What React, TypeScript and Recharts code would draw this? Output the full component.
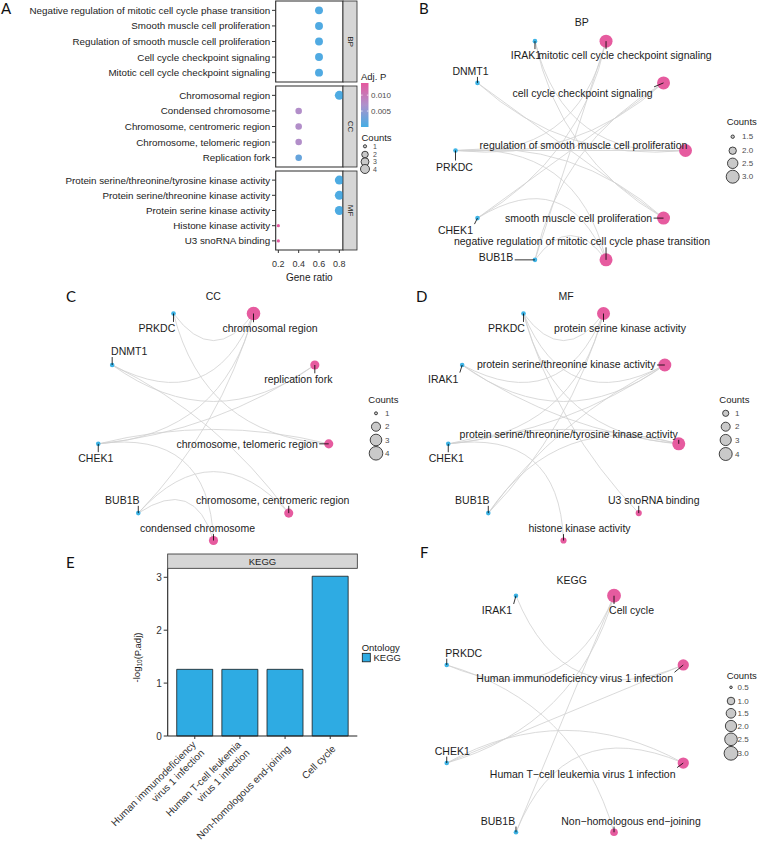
import React from 'react';
import { ScatterChart, Scatter, XAxis, YAxis, ReferenceArea, ReferenceLine, BarChart, Bar } from 'recharts';

const FONT = '"Liberation Sans", Arial, Helvetica, sans-serif';
const GENE_COLOR = '#3db4e6';
const TERM_COLOR = '#e65b9f';
const EDGE_COLOR = '#d0d0d0';
const BAR_COLOR = '#2eabe3';
const TXT = '#1c1c1c';

// ---------------- Panel A: GO dot plot ----------------
const bpTerms = [
  'Negative regulation of mitotic cell cycle phase transition',
  'Smooth muscle cell proliferation',
  'Regulation of smooth muscle cell proliferation',
  'Cell cycle checkpoint signaling',
  'Mitotic cell cycle checkpoint signaling',
];
const bpGeneRatio = [0.6, 0.6, 0.6, 0.6, 0.6];
const bpCounts = [3, 3, 3, 3, 3];
const bpAdjP = [0.0007, 0.0007, 0.0007, 0.0007, 0.0007];

const ccTerms = [
  'Chromosomal region',
  'Condensed chromosome',
  'Chromosome, centromeric region',
  'Chromosome, telomeric region',
  'Replication fork',
];
const ccGeneRatio = [0.8, 0.4, 0.4, 0.4, 0.4];
const ccCounts = [4, 2, 2, 2, 2];
const ccAdjP = [0.0006, 0.0074, 0.0074, 0.0074, 0.0022];

const mfTerms = [
  'Protein serine/threonine/tyrosine kinase activity',
  'Protein serine/threonine kinase activity',
  'Protein serine kinase activity',
  'Histone kinase activity',
  'U3 snoRNA binding',
];
const mfGeneRatio = [0.8, 0.8, 0.8, 0.2, 0.2];
const mfCounts = [4, 4, 4, 1, 1];
const mfAdjP = [0.0005, 0.0005, 0.0005, 0.0136, 0.0136];

const geneRatioTicks = [0.2, 0.4, 0.6, 0.8];
const adjPTicks = [0.01, 0.005];
const dotCountTicks = [1, 2, 3, 4];

// ---------------- Networks ----------------
const bpGenes = ['IRAK1', 'DNMT1', 'PRKDC', 'CHEK1', 'BUB1B'];
const bpNodeNames = [
  'regulation of smooth muscle cell proliferation',
  'cell cycle checkpoint signaling',
  'mitotic cell cycle checkpoint signaling',
  'IRAK1',
  'DNMT1',
  'PRKDC',
  'CHEK1',
  'BUB1B',
  'negative regulation of mitotic cell cycle phase transition',
  'smooth muscle cell proliferation',
];
const bpNodeX = [1.0, 0.809, 0.309, -0.309, -0.809, -1.0, -0.809, -0.309, 0.309, 0.809];
const bpNodeY = [0.0, 0.588, 0.951, 0.951, 0.588, 0.0, -0.588, -0.951, -0.951, -0.588];
const bpEdges: [string, string][] = [
  ['IRAK1', 'regulation of smooth muscle cell proliferation'],
  ['DNMT1', 'regulation of smooth muscle cell proliferation'],
  ['PRKDC', 'regulation of smooth muscle cell proliferation'],
  ['IRAK1', 'smooth muscle cell proliferation'],
  ['DNMT1', 'smooth muscle cell proliferation'],
  ['PRKDC', 'smooth muscle cell proliferation'],
  ['CHEK1', 'mitotic cell cycle checkpoint signaling'],
  ['BUB1B', 'mitotic cell cycle checkpoint signaling'],
  ['PRKDC', 'mitotic cell cycle checkpoint signaling'],
  ['CHEK1', 'cell cycle checkpoint signaling'],
  ['BUB1B', 'cell cycle checkpoint signaling'],
  ['PRKDC', 'cell cycle checkpoint signaling'],
  ['CHEK1', 'negative regulation of mitotic cell cycle phase transition'],
  ['BUB1B', 'negative regulation of mitotic cell cycle phase transition'],
  ['PRKDC', 'negative regulation of mitotic cell cycle phase transition'],
];
const bpSizeTicks = [1.5, 2.0, 2.5, 3.0];

const ccGenes = ['PRKDC', 'DNMT1', 'CHEK1', 'BUB1B'];
const ccNodeNames = [
  'condensed chromosome',
  'chromosome, centromeric region',
  'chromosome, telomeric region',
  'replication fork',
  'chromosomal region',
  'PRKDC',
  'DNMT1',
  'CHEK1',
  'BUB1B',
];
const ccNodeX = [0.0, 0.643, 0.985, 0.866, 0.342, -0.342, -0.866, -0.985, -0.643];
const ccNodeY = [-1.0, -0.766, -0.174, 0.5, 0.94, 0.94, 0.5, -0.174, -0.766];
const ccEdges: [string, string][] = [
  ['PRKDC', 'chromosomal region'],
  ['DNMT1', 'chromosomal region'],
  ['CHEK1', 'chromosomal region'],
  ['BUB1B', 'chromosomal region'],
  ['CHEK1', 'replication fork'],
  ['DNMT1', 'replication fork'],
  ['PRKDC', 'chromosome, telomeric region'],
  ['CHEK1', 'chromosome, telomeric region'],
  ['DNMT1', 'chromosome, centromeric region'],
  ['BUB1B', 'chromosome, centromeric region'],
  ['CHEK1', 'condensed chromosome'],
  ['BUB1B', 'condensed chromosome'],
];
const ccSizeTicks = [1, 2, 3, 4];

const mfGenes = ['PRKDC', 'IRAK1', 'CHEK1', 'BUB1B'];
const mfNodeNames = [
  'histone kinase activity',
  'U3 snoRNA binding',
  'protein serine/threonine/tyrosine kinase activity',
  'protein serine/threonine kinase activity',
  'protein serine kinase activity',
  'PRKDC',
  'IRAK1',
  'CHEK1',
  'BUB1B',
];
const mfNodeX = [0.0, 0.643, 0.985, 0.866, 0.342, -0.342, -0.866, -0.985, -0.643];
const mfNodeY = [-1.0, -0.766, -0.174, 0.5, 0.94, 0.94, 0.5, -0.174, -0.766];
const mfEdges: [string, string][] = [
  ['PRKDC', 'protein serine kinase activity'],
  ['IRAK1', 'protein serine kinase activity'],
  ['CHEK1', 'protein serine kinase activity'],
  ['BUB1B', 'protein serine kinase activity'],
  ['PRKDC', 'protein serine/threonine kinase activity'],
  ['IRAK1', 'protein serine/threonine kinase activity'],
  ['CHEK1', 'protein serine/threonine kinase activity'],
  ['BUB1B', 'protein serine/threonine kinase activity'],
  ['PRKDC', 'protein serine/threonine/tyrosine kinase activity'],
  ['IRAK1', 'protein serine/threonine/tyrosine kinase activity'],
  ['CHEK1', 'protein serine/threonine/tyrosine kinase activity'],
  ['BUB1B', 'protein serine/threonine/tyrosine kinase activity'],
  ['CHEK1', 'histone kinase activity'],
  ['PRKDC', 'U3 snoRNA binding'],
];
const mfSizeTicks = [1, 2, 3, 4];

const kgGenes = ['IRAK1', 'PRKDC', 'CHEK1', 'BUB1B'];
const kgNodeNames = [
  'Human immunodeficiency virus 1 infection',
  'Cell cycle',
  'IRAK1',
  'PRKDC',
  'CHEK1',
  'BUB1B',
  'Non\u2212homologous end\u2212joining',
  'Human T\u2212cell leukemia virus 1 infection',
];
const kgNodeX = [0.924, 0.383, -0.383, -0.924, -0.924, -0.383, 0.383, 0.924];
const kgNodeY = [0.383, 0.924, 0.924, 0.383, -0.383, -0.924, -0.924, -0.383];
const kgEdges: [string, string][] = [
  ['PRKDC', 'Cell cycle'],
  ['CHEK1', 'Cell cycle'],
  ['BUB1B', 'Cell cycle'],
  ['IRAK1', 'Human immunodeficiency virus 1 infection'],
  ['CHEK1', 'Human immunodeficiency virus 1 infection'],
  ['CHEK1', 'Human T\u2212cell leukemia virus 1 infection'],
  ['BUB1B', 'Human T\u2212cell leukemia virus 1 infection'],
  ['PRKDC', 'Non\u2212homologous end\u2212joining'],
];
const kgSizeTicks = [0.5, 1.0, 1.5, 2.0, 2.5, 3.0];

// ---------------- Panel E: KEGG bars ----------------
const keggTerms = [
  'Human immunodeficiency\nvirus 1 infection',
  'Human T-cell leukemia\nvirus 1 infection',
  'Non-homologous end-joining',
  'Cell cycle',
];
const keggNegLog10P = [1.26, 1.26, 1.26, 3.02];
const keggYTicks = [0, 1, 2, 3];

// ---------------- styles (label offsets, sizes) ----------------
const bpLabelOffset: Record<string, [number, number]> = {
  IRAK1: [-9, 14], DNMT1: [-7, -12], PRKDC: [-1, 16], CHEK1: [-22, 12], BUB1B: [-39, -3],
  'mitotic cell cycle checkpoint signaling': [19, 14],
  'cell cycle checkpoint signaling': [-81, 10],
  'regulation of smooth muscle cell proliferation': [-102, -6],
  'smooth muscle cell proliferation': [-85, 0],
  'negative regulation of mitotic cell cycle phase transition': [-24, -18.5],
};
const ccLabelOffset: Record<string, [number, number]> = {
  PRKDC: [-16.6, 14.4], DNMT1: [17, -14], CHEK1: [-2.5, 14.3], BUB1B: [-16, -13.3],
  'condensed chromosome': [-16, -12.4],
  'chromosome, centromeric region': [-16, -13.3],
  'chromosome, telomeric region': [-81.6, 0.3],
  'replication fork': [-16.5, 14.3],
  'chromosomal region': [16.5, 14.7],
};
const mfLabelOffset: Record<string, [number, number]> = {
  PRKDC: [-17, 14.4], IRAK1: [-19, 13.6], CHEK1: [-2, 14.4], BUB1B: [-16, -13.3],
  'histone kinase activity': [16, -12.4],
  'U3 snoRNA binding': [15, -13.3],
  'protein serine/threonine/tyrosine kinase activity': [-110, -10],
  'protein serine/threonine kinase activity': [-98.6, -0.7],
  'protein serine kinase activity': [16.5, 14.4],
};
const kgLabelOffset: Record<string, [number, number]> = {
  IRAK1: [-19, 14.3], PRKDC: [17, -12.3], CHEK1: [5.5, -12.4], BUB1B: [-18, -11.7],
  'Non\u2212homologous end\u2212joining': [17, -11.7],
  'Human T\u2212cell leukemia virus 1 infection': [-100.6, 10.6],
  'Human immunodeficiency virus 1 infection': [-108.6, 13.3],
  'Cell cycle': [17.5, 14.3],
};

type SizeSpec = [number, number, number, number]; // vmin, vmax, rmin, rmax
const aSize: SizeSpec = [1, 4, 1.6, 4.5];
const bpSize: SizeSpec = [1, 3, -3.1, 6.5];
const ccSize: SizeSpec = [1, 4, 1.5, 6.8];
const mfSize: SizeSpec = [0, 4, -0.3, 6.5];
const kgSize: SizeSpec = [0.5, 3, 1.3, 6.9];

function radiusOf(v: number, s: SizeSpec) {
  const t = Math.max(0, Math.min(1, (v - s[0]) / (s[1] - s[0])));
  return Math.max(0.8, s[2] + (s[3] - s[2]) * Math.sqrt(t));
}

const P_SCALE_MAX = 0.0138;
const P_STOPS = [
  [69, 173, 228],
  [174, 146, 204],
  [229, 88, 158],
];
function pColor(p: number) {
  const t = Math.max(0, Math.min(1, p / P_SCALE_MAX));
  const seg = t < 0.5 ? 0 : 1;
  const u = t < 0.5 ? t * 2 : (t - 0.5) * 2;
  const a = P_STOPS[seg], b = P_STOPS[seg + 1];
  const c = a.map((v, i) => Math.round(v + (b[i] - v) * u));
  return `rgb(${c[0]},${c[1]},${c[2]})`;
}

let measureCtx: CanvasRenderingContext2D | null = null;
function textWidth(s: string, size: number) {
  if (!measureCtx) measureCtx = document.createElement('canvas').getContext('2d');
  if (!measureCtx) return s.length * size * 0.5;
  measureCtx.font = `${size}px "Liberation Sans"`;
  return measureCtx.measureText(s).width;
}

// ---------------- Panel A facet ----------------
function DotFacet(props: {
  terms: string[]; ratio: number[]; counts: number[]; adjP: number[];
  top: number; height: number; showX: boolean;
}) {
  const { terms, ratio, counts, adjP, top, height, showX } = props;
  const rows = terms.map((t, i) => ({ term: t, pos: i + 1, ratio: ratio[i], count: counts[i], p: adjP[i] }));
  const axisH = showX ? 35 : 0;
  const dot = (p: any) =>
    p.cx == null ? <g /> : (
      <circle cx={p.cx} cy={p.cy} r={radiusOf(p.payload.count, aSize)} fill={pColor(p.payload.p)} />
    );
  const termTick = (p: any) => (
    <text x={p.x} y={p.y} textAnchor="end" dominantBaseline="central" fontSize={9.8} fill={TXT} fontFamily={FONT}>
      {terms[Math.round(p.payload.value) - 1]}
    </text>
  );
  return (
    <div style={{ position: 'absolute', left: 0, top, width: 350, height: height + axisH }}>
      <ScatterChart width={350} height={height + axisH} margin={{ top: 0, right: 7, bottom: 0, left: 0 }}>
        <XAxis
          type="number" dataKey="ratio" domain={[0.174, 0.836]} ticks={geneRatioTicks} interval={0}
          hide={!showX} height={axisH} tickSize={3} tickMargin={7.5} axisLine={false}
          tickLine={{ stroke: '#333' }}
          tick={{ fontSize: 9, fill: '#333', fontFamily: FONT }}
          tickFormatter={(v: number) => v.toFixed(1)}
          label={{ value: 'Gene ratio', position: 'insideBottom', offset: 4, fontSize: 10, fill: TXT, fontFamily: FONT }}
        />
        <YAxis
          type="number" dataKey="pos" domain={[0.4, 5.6]} reversed ticks={[1, 2, 3, 4, 5]} interval={0}
          width={275.7} tickSize={3.7} tickMargin={1.8}
          axisLine={false} tickLine={{ stroke: '#333' }}
          tick={termTick}
        />
        <ReferenceArea x1={0.174} x2={0.836} y1={0.4} y2={5.6} fill="none" fillOpacity={0} stroke="#2a2a2a" strokeWidth={1.1} ifOverflow="visible" />
        <Scatter data={rows} shape={dot} isAnimationActive={false} />
      </ScatterChart>
    </div>
  );
}

// ---------------- Network ----------------
type NetNode = { name: string; x: number; y: number; gene: boolean; count: number };
const ARC_BEND = 0.72;
const LABEL_FS = 10.5;

function edgeShape(a: NetNode, b: NetNode) {
  return (p: any) => {
    const { x1, y1, x2, y2 } = p;
    if ([x1, y1, x2, y2].some((v) => v == null || isNaN(v))) return <g />;
    const dxd = b.x - a.x, dyd = b.y - a.y;
    const k = Math.abs(dxd) > Math.abs(dyd) ? (x2 - x1) / dxd : -(y2 - y1) / dyd;
    const chord = Math.hypot(dxd, dyd);
    const s = ARC_BEND * chord;
    const mx = (a.x + b.x) / 2, my = (a.y + b.y) / 2;
    const qx = mx * (1 - s), qy = my * (1 - s);
    const cpx = x1 + k * (qx - a.x), cpy = y1 - k * (qy - a.y);
    return (
      <path d={`M${x1},${y1}Q${cpx},${cpy} ${x2},${y2}`} fill="none" stroke={EDGE_COLOR} strokeWidth={0.8} />
    );
  };
}

function Network(props: {
  names: string[]; xs: number[]; ys: number[]; genes: string[]; edges: [string, string][];
  offsets: Record<string, [number, number]>; size: SizeSpec;
  cx: number; cy: number; half: number; dom: number;
}) {
  const { names, xs, ys, genes, edges, offsets, size, cx, cy, half, dom } = props;
  const nodes: NetNode[] = names.map((n, i) => ({
    name: n, x: xs[i], y: ys[i], gene: genes.includes(n),
    count: edges.filter((e) => e[1] === n).length,
  }));
  const byName: Record<string, NetNode> = {};
  nodes.forEach((n) => (byName[n.name] = n));
  const dot = (p: any) => {
    if (p.cx == null) return <g />;
    const d = p.payload as NetNode;
    return d.gene ? (
      <circle cx={p.cx} cy={p.cy} r={2.3} fill={GENE_COLOR} />
    ) : (
      <circle cx={p.cx} cy={p.cy} r={radiusOf(d.count, size)} fill={TERM_COLOR} />
    );
  };
  const lab = (p: any) => {
    if (p.cx == null) return <g />;
    const d = p.payload as NetNode;
    const off = offsets[d.name] || [0, 0];
    const lx = p.cx + off[0], ly = p.cy + off[1];
    const w = textWidth(d.name, LABEL_FS);
    const bx0 = lx - w / 2 - 1.5, bx1 = lx + w / 2 + 1.5, by0 = ly - 6, by1 = ly + 6;
    const px = Math.max(bx0, Math.min(bx1, p.cx));
    const py = Math.max(by0, Math.min(by1, p.cy));
    const seg = Math.hypot(px - p.cx, py - p.cy) > 2.5;
    return (
      <g>
        {seg && <line x1={p.cx} y1={p.cy} x2={px} y2={py} stroke="#000" strokeWidth={0.8} />}
        <text x={lx} y={ly} textAnchor="middle" dominantBaseline="central" fontSize={LABEL_FS} fontFamily={FONT} fill={TXT}>
          {d.name}
        </text>
      </g>
    );
  };
  return (
    <div style={{ position: 'absolute', left: cx - half, top: cy - half, width: 2 * half, height: 2 * half }}>
      <ScatterChart width={2 * half} height={2 * half} margin={{ top: 0, right: 0, bottom: 0, left: 0 }}>
        <XAxis type="number" dataKey="x" domain={[-dom, dom]} hide />
        <YAxis type="number" dataKey="y" domain={[-dom, dom]} hide />
        {edges.map(([g, t], i) => {
          const a = byName[g], b = byName[t];
          return (
            <ReferenceLine
              key={i}
              segment={[{ x: a.x, y: a.y }, { x: b.x, y: b.y }]}
              ifOverflow="visible"
              stroke={EDGE_COLOR}
              shape={edgeShape(a, b)}
            />
          );
        })}
        <Scatter data={nodes} shape={dot} isAnimationActive={false} />
        <Scatter data={nodes} shape={lab} isAnimationActive={false} />
      </ScatterChart>
    </div>
  );
}

// ---------------- Panel E tick ----------------
const KeggTick = (p: any) => {
  const { x, y, payload } = p;
  const lines = String(payload.value).split('\n');
  const LH = 11.8;
  return (
    <g transform={`translate(${x + 3.5},${y + 6}) rotate(-45)`}>
      <text textAnchor="end" fontSize={10} fill="#333" fontFamily={FONT}>
        {lines.map((l, i) => (
          <tspan key={i} x={0} dy={i === 0 ? -((lines.length - 1) / 2) * LH + 3.5 : LH}>
            {l}
          </tspan>
        ))}
      </text>
    </g>
  );
};

// ---------------- Legends ----------------
function SizeLegend(props: {
  tx: number; ty: number; cx: number; ys: number[]; values: number[]; size: SizeSpec; lx: number;
  fmt?: (v: number) => string; fs?: number;
}) {
  const { tx, ty, cx, ys, values, size, lx, fmt, fs } = props;
  return (
    <g>
      <text x={tx} y={ty} dominantBaseline="central" fontSize={9.5} fill={TXT} fontFamily={FONT}>Counts</text>
      {values.map((v, i) => (
        <circle key={'c' + i} cx={cx} cy={ys[i]} r={radiusOf(v, size)} fill="#c9c9c9" stroke="#1a1a1a" strokeWidth={0.8} />
      ))}
      {values.map((v, i) => (
        <text key={'t' + i} x={lx} y={ys[i]} dominantBaseline="central" fontSize={fs || 8} fill="#4d4d4d" fontFamily={FONT}>
          {fmt ? fmt(v) : String(v)}
        </text>
      ))}
    </g>
  );
}

function Overlay() {
  const letter = (s: string, x: number, y: number) => (
    <text x={x} y={y} fontSize={15} fontFamily='Lato, "Liberation Sans", sans-serif' fill="#111">{s}</text>
  );
  const title = (s: string, x: number, y: number) => (
    <text x={x} y={y} textAnchor="middle" dominantBaseline="central" fontSize={10.5} fontFamily={FONT} fill={TXT}>{s}</text>
  );
  const strips: [string, number, number][] = [['BP', 1, 82], ['CC', 86, 167], ['MF', 171, 250]];
  const gTop = 83, gH = 44;
  return (
    <svg width={761} height={844} style={{ position: 'absolute', left: 0, top: 0, pointerEvents: 'none' }}>
      <defs>
        <linearGradient id="adjp" x1="0" y1="1" x2="0" y2="0">
          {P_STOPS.map((c, i) => (
            <stop key={i} offset={`${i * 50}%`} stopColor={`rgb(${c[0]},${c[1]},${c[2]})`} />
          ))}
        </linearGradient>
      </defs>
      {letter('A', 1, 13.5)}
      {letter('B', 419, 13.5)}
      {letter('C', 66, 301.5)}
      {letter('D', 416, 301.5)}
      {letter('E', 66, 568)}
      {letter('F', 420, 558)}
      {title('BP', 581.7, 21.7)}
      {title('CC', 213.3, 295.7)}
      {title('MF', 566, 295.7)}
      {title('KEGG', 571.7, 580)}

      {strips.map(([s, t, b]) => (
        <g key={s}>
          <rect x={343} y={t} width={14} height={b - t} fill="#d6d6d6" stroke="#2a2a2a" strokeWidth={0.8} />
          <text x={350} y={(t + b) / 2} textAnchor="middle" dominantBaseline="central" fontSize={8} fill={TXT}
            fontFamily={FONT} transform={`rotate(90 350 ${(t + b) / 2})`}>{s}</text>
        </g>
      ))}

      <text x={361} y={79.5} fontSize={9.5} fill={TXT} fontFamily={FONT}>Adj. P</text>
      <rect x={361} y={gTop} width={7.5} height={gH} fill="url(#adjp)" />
      {adjPTicks.map((v) => {
        const yy = gTop + gH - (v / P_SCALE_MAX) * gH;
        return (
          <g key={v}>
            <line x1={361} x2={362.6} y1={yy} y2={yy} stroke="#fff" strokeWidth={0.7} />
            <line x1={366.9} x2={368.5} y1={yy} y2={yy} stroke="#fff" strokeWidth={0.7} />
            <text x={371} y={yy} dominantBaseline="central" fontSize={8} fill="#4d4d4d" fontFamily={FONT}>{v.toFixed(3)}</text>
          </g>
        );
      })}
      <SizeLegend tx={361.5} ty={137} cx={365} ys={[146.3, 154.5, 161.8, 169]} values={dotCountTicks} size={aSize} lx={373} fs={7} />

      <SizeLegend tx={726.7} ty={121.7} cx={732.7} ys={[136.7, 150.7, 163.3, 176.7]} values={bpSizeTicks} size={bpSize} lx={742} fmt={(v) => v.toFixed(1)} />
      <SizeLegend tx={368.3} ty={399.3} cx={376} ys={[413.3, 426.7, 440, 453.3]} values={ccSizeTicks} size={ccSize} lx={385} />
      <SizeLegend tx={719.3} ty={399} cx={725.7} ys={[413.3, 426.7, 440, 454]} values={mfSizeTicks} size={mfSize} lx={735} />
      <SizeLegend tx={726.7} ty={675} cx={731} ys={[687.3, 701, 713.3, 726, 739.3, 753.3]} values={kgSizeTicks} size={kgSize} lx={737.5} fmt={(v) => v.toFixed(1)} />

      <rect x={167.7} y={554} width={189.6} height={14.3} fill="#d6d6d6" stroke="#2a2a2a" strokeWidth={0.8} />
      <text x={262.5} y={561.2} textAnchor="middle" dominantBaseline="central" fontSize={9.5} fill={TXT} fontFamily={FONT}>KEGG</text>
      <text transform="translate(136.7,657.5) rotate(-90)" textAnchor="middle" dominantBaseline="central" fontSize={9.5} fill={TXT} fontFamily={FONT}>
        -log<tspan fontSize={6.5} dy={2}>10</tspan><tspan dy={-2}>(P.adj)</tspan>
      </text>
      <text x={361.7} y={647} dominantBaseline="central" fontSize={9.5} fill={TXT} fontFamily={FONT}>Ontology</text>
      <rect x={362.3} y={653.3} width={8} height={8.5} fill={BAR_COLOR} stroke="#1a1a1a" strokeWidth={0.8} />
      <text x={373.5} y={657.6} dominantBaseline="central" fontSize={9.5} fill={TXT} fontFamily={FONT}>KEGG</text>
    </svg>
  );
}

export default function App() {
  const keggData = keggTerms.map((t, i) => ({ term: t, value: keggNegLog10P[i] }));
  return (
    <div style={{ position: 'absolute', left: 0, top: 0, width: 761, height: 844, overflow: 'hidden', background: '#fff', fontFamily: FONT }}>
      <style>{'.recharts-surface{overflow:visible}'}</style>

      <DotFacet terms={bpTerms} ratio={bpGeneRatio} counts={bpCounts} adjP={bpAdjP} top={1} height={81} showX={false} />
      <DotFacet terms={ccTerms} ratio={ccGeneRatio} counts={ccCounts} adjP={ccAdjP} top={86} height={81} showX={false} />
      <DotFacet terms={mfTerms} ratio={mfGeneRatio} counts={mfCounts} adjP={mfAdjP} top={171} height={79} showX={true} />

      <Network names={bpNodeNames} xs={bpNodeX} ys={bpNodeY} genes={bpGenes} edges={bpEdges} offsets={bpLabelOffset}
        size={bpSize} cx={570} cy={150} half={172.5} dom={1.5} />
      <Network names={ccNodeNames} xs={ccNodeX} ys={ccNodeY} genes={ccGenes} edges={ccEdges} offsets={ccLabelOffset}
        size={ccSize} cx={213} cy={423.7} half={172.5} dom={172.5 / 117} />
      <Network names={mfNodeNames} xs={mfNodeX} ys={mfNodeY} genes={mfGenes} edges={mfEdges} offsets={mfLabelOffset}
        size={mfSize} cx={563} cy={423.7} half={172.5} dom={172.5 / 117} />
      <Network names={kgNodeNames} xs={kgNodeX} ys={kgNodeY} genes={kgGenes} edges={kgEdges} offsets={kgLabelOffset}
        size={kgSize} cx={565} cy={713.7} half={130} dom={130 / 128} />

      <div style={{ position: 'absolute', left: 0, top: 540, width: 360, height: 304 }}>
        <BarChart width={360} height={304} data={keggData} margin={{ top: 28.3, right: 2.7, left: 0, bottom: 0 }} barCategoryGap="10%">
          <XAxis dataKey="term" height={108} padding={{ left: 4.5, right: 4.5 }} tickSize={3} tickMargin={2}
            tick={<KeggTick />} interval={0} axisLine={{ stroke: '#222', strokeWidth: 1.1 }} tickLine={{ stroke: '#333' }} />
          <YAxis domain={[0, 3.17]} ticks={keggYTicks} interval={0} width={167.7} tickSize={4} tickMargin={2}
            axisLine={{ stroke: '#222', strokeWidth: 1.1 }} tickLine={{ stroke: '#333' }}
            tick={{ fontSize: 10, fill: '#333', fontFamily: FONT }} />
          <YAxis yAxisId="r" orientation="right" width={0} tick={false} tickLine={false}
            axisLine={{ stroke: '#222', strokeWidth: 1.1 }} />
          <Bar dataKey="value" fill={BAR_COLOR} stroke="#1a1a1a" strokeWidth={0.8} isAnimationActive={false} />
        </BarChart>
      </div>

      <Overlay />
    </div>
  );
}
